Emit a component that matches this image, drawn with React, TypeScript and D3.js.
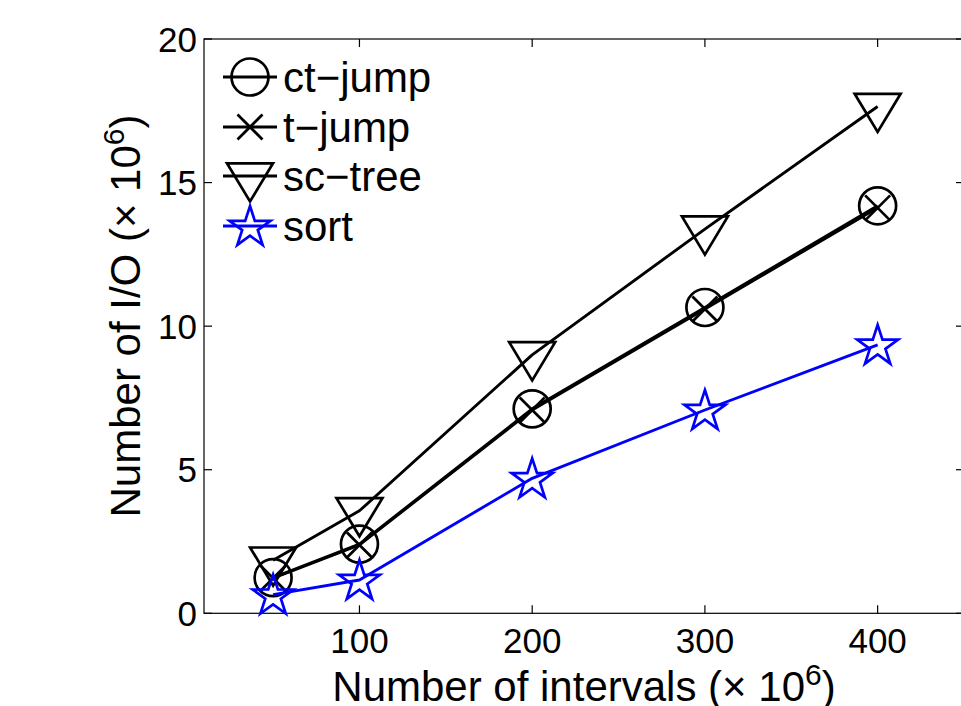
import React from "react";
import * as d3 from "d3";

const xValues = [50, 100, 200, 300, 400];
const ctJump = [1.24, 2.41, 7.12, 10.65, 14.19];
const tJump = [1.22, 2.38, 7.08, 10.6, 14.12];
const scTree = [1.85, 3.57, 9.0, 13.38, 17.65];
const sortVals = [0.65, 1.16, 4.7, 7.08, 9.35];
const xTicks = [100, 200, 300, 400];
const yTicks = [0, 5, 10, 15, 20];
const seriesNames = ["ct\u2212jump", "t\u2212jump", "sc\u2212tree", "sort"];

const W = 961, H = 706;
const L = 204, T = 39, R = 964, B = 613.3;
const FONT = "'Liberation Sans', Arial, Helvetica, sans-serif";

type MarkerKind = "o" | "x" | "v" | "p";

function Marker({ kind, x, y, color }: { kind: MarkerKind; x: number; y: number; color: string }) {
  const sw = 2.7;
  if (kind === "o") return <circle cx={x} cy={y} r={18.5} fill="none" stroke={color} strokeWidth={sw} />;
  if (kind === "x") {
    const s = 12.5;
    return (
      <g stroke={color} strokeWidth={sw}>
        <line x1={x - s} y1={y - s} x2={x + s} y2={y + s} />
        <line x1={x - s} y1={y + s} x2={x + s} y2={y - s} />
      </g>
    );
  }
  if (kind === "v") {
    const pts = [[x - 23, y - 12.7], [x + 23, y - 12.7], [x, y + 25.5]];
    return <polygon points={pts.map((p) => p.join(",")).join(" ")} fill="none" stroke={color} strokeWidth={sw} strokeLinejoin="miter" />;
  }
  const Ro = 21.5, Ri = Ro * 0.382;
  const pts: number[][] = [];
  for (let i = 0; i < 10; i++) {
    const a = -Math.PI / 2 + (i * Math.PI) / 5;
    const r = i % 2 === 0 ? Ro : Ri;
    pts.push([x + r * Math.cos(a), y + 1.5 + r * Math.sin(a)]);
  }
  return <polygon points={pts.map((p) => p.join(",")).join(" ")} fill="none" stroke={color} strokeWidth={sw} />;
}

export default function App() {
  const xs = d3.scaleLinear().domain([10, 450]).range([L, R]);
  const ys = d3.scaleLinear().domain([0, 20]).range([B, T]);
  const series: { vals: number[]; kind: MarkerKind; color: string }[] = [
    { vals: ctJump, kind: "o", color: "#000" },
    { vals: tJump, kind: "x", color: "#000" },
    { vals: scTree, kind: "v", color: "#000" },
    { vals: sortVals, kind: "p", color: "#0000ff" },
  ];
  const line = d3.line<number>().x((_, i) => xs(xValues[i])).y((d) => ys(d));
  const tickLen = 8;
  const legendRows = [77, 127, 176, 226];

  return (
    <svg width={W} height={H} style={{ position: "absolute", left: 0, top: 0, background: "#fff" }} fontFamily={FONT}>
      <rect x={0} y={0} width={W} height={H} fill="#fff" />
      <g stroke="#000" strokeWidth={1.2} fill="none">
        <rect x={L} y={T} width={R - L} height={B - T} />
        {xTicks.map((t) => (
          <g key={"xt" + t}>
            <line x1={xs(t)} x2={xs(t)} y1={B} y2={B - tickLen} />
            <line x1={xs(t)} x2={xs(t)} y1={T} y2={T + tickLen} />
          </g>
        ))}
        {yTicks.map((t) => (
          <g key={"yt" + t}>
            <line x1={L} x2={L + tickLen} y1={ys(t)} y2={ys(t)} />
            <line x1={R} x2={R - tickLen} y1={ys(t)} y2={ys(t)} />
          </g>
        ))}
      </g>
      {xTicks.map((t) => (
        <text key={"xl" + t} x={xs(t)} y={653} fontSize={35} textAnchor="middle" fill="#000">{t}</text>
      ))}
      {yTicks.map((t) => (
        <text key={"yl" + t} x={197} y={ys(t) + 12.5} fontSize={35} textAnchor="end" fill="#000">{t}</text>
      ))}
      {series.map((s, si) => (
        <g key={"s" + si}>
          <path d={line(s.vals) || ""} fill="none" stroke={s.color} strokeWidth={2.9} strokeLinejoin="round" />
          {s.vals.map((v, i) => (
            <Marker key={i} kind={s.kind} x={xs(xValues[i])} y={ys(v)} color={s.color} />
          ))}
        </g>
      ))}
      {series.map((s, si) => (
        <g key={"lg" + si}>
          <line x1={223} x2={277} y1={legendRows[si]} y2={legendRows[si]} stroke={s.color} strokeWidth={2.9} />
          <Marker kind={s.kind} x={250} y={legendRows[si]} color={s.color} />
          <text x={283} y={legendRows[si] + 15} fontSize={42} fill="#000">{seriesNames[si]}</text>
        </g>
      ))}
      <text x={(L + R) / 2} y={701} fontSize={42} textAnchor="middle" fill="#000">
        Number of intervals (× 10<tspan dy={-16} fontSize={30}>6</tspan><tspan dy={16}>)</tspan>
      </text>
      <text transform={`translate(140,316) rotate(-90)`} fontSize={42} textAnchor="middle" fill="#000">
        Number of I/O (× 10<tspan dy={-16} fontSize={30}>6</tspan><tspan dy={16}>)</tspan>
      </text>
    </svg>
  );
}
